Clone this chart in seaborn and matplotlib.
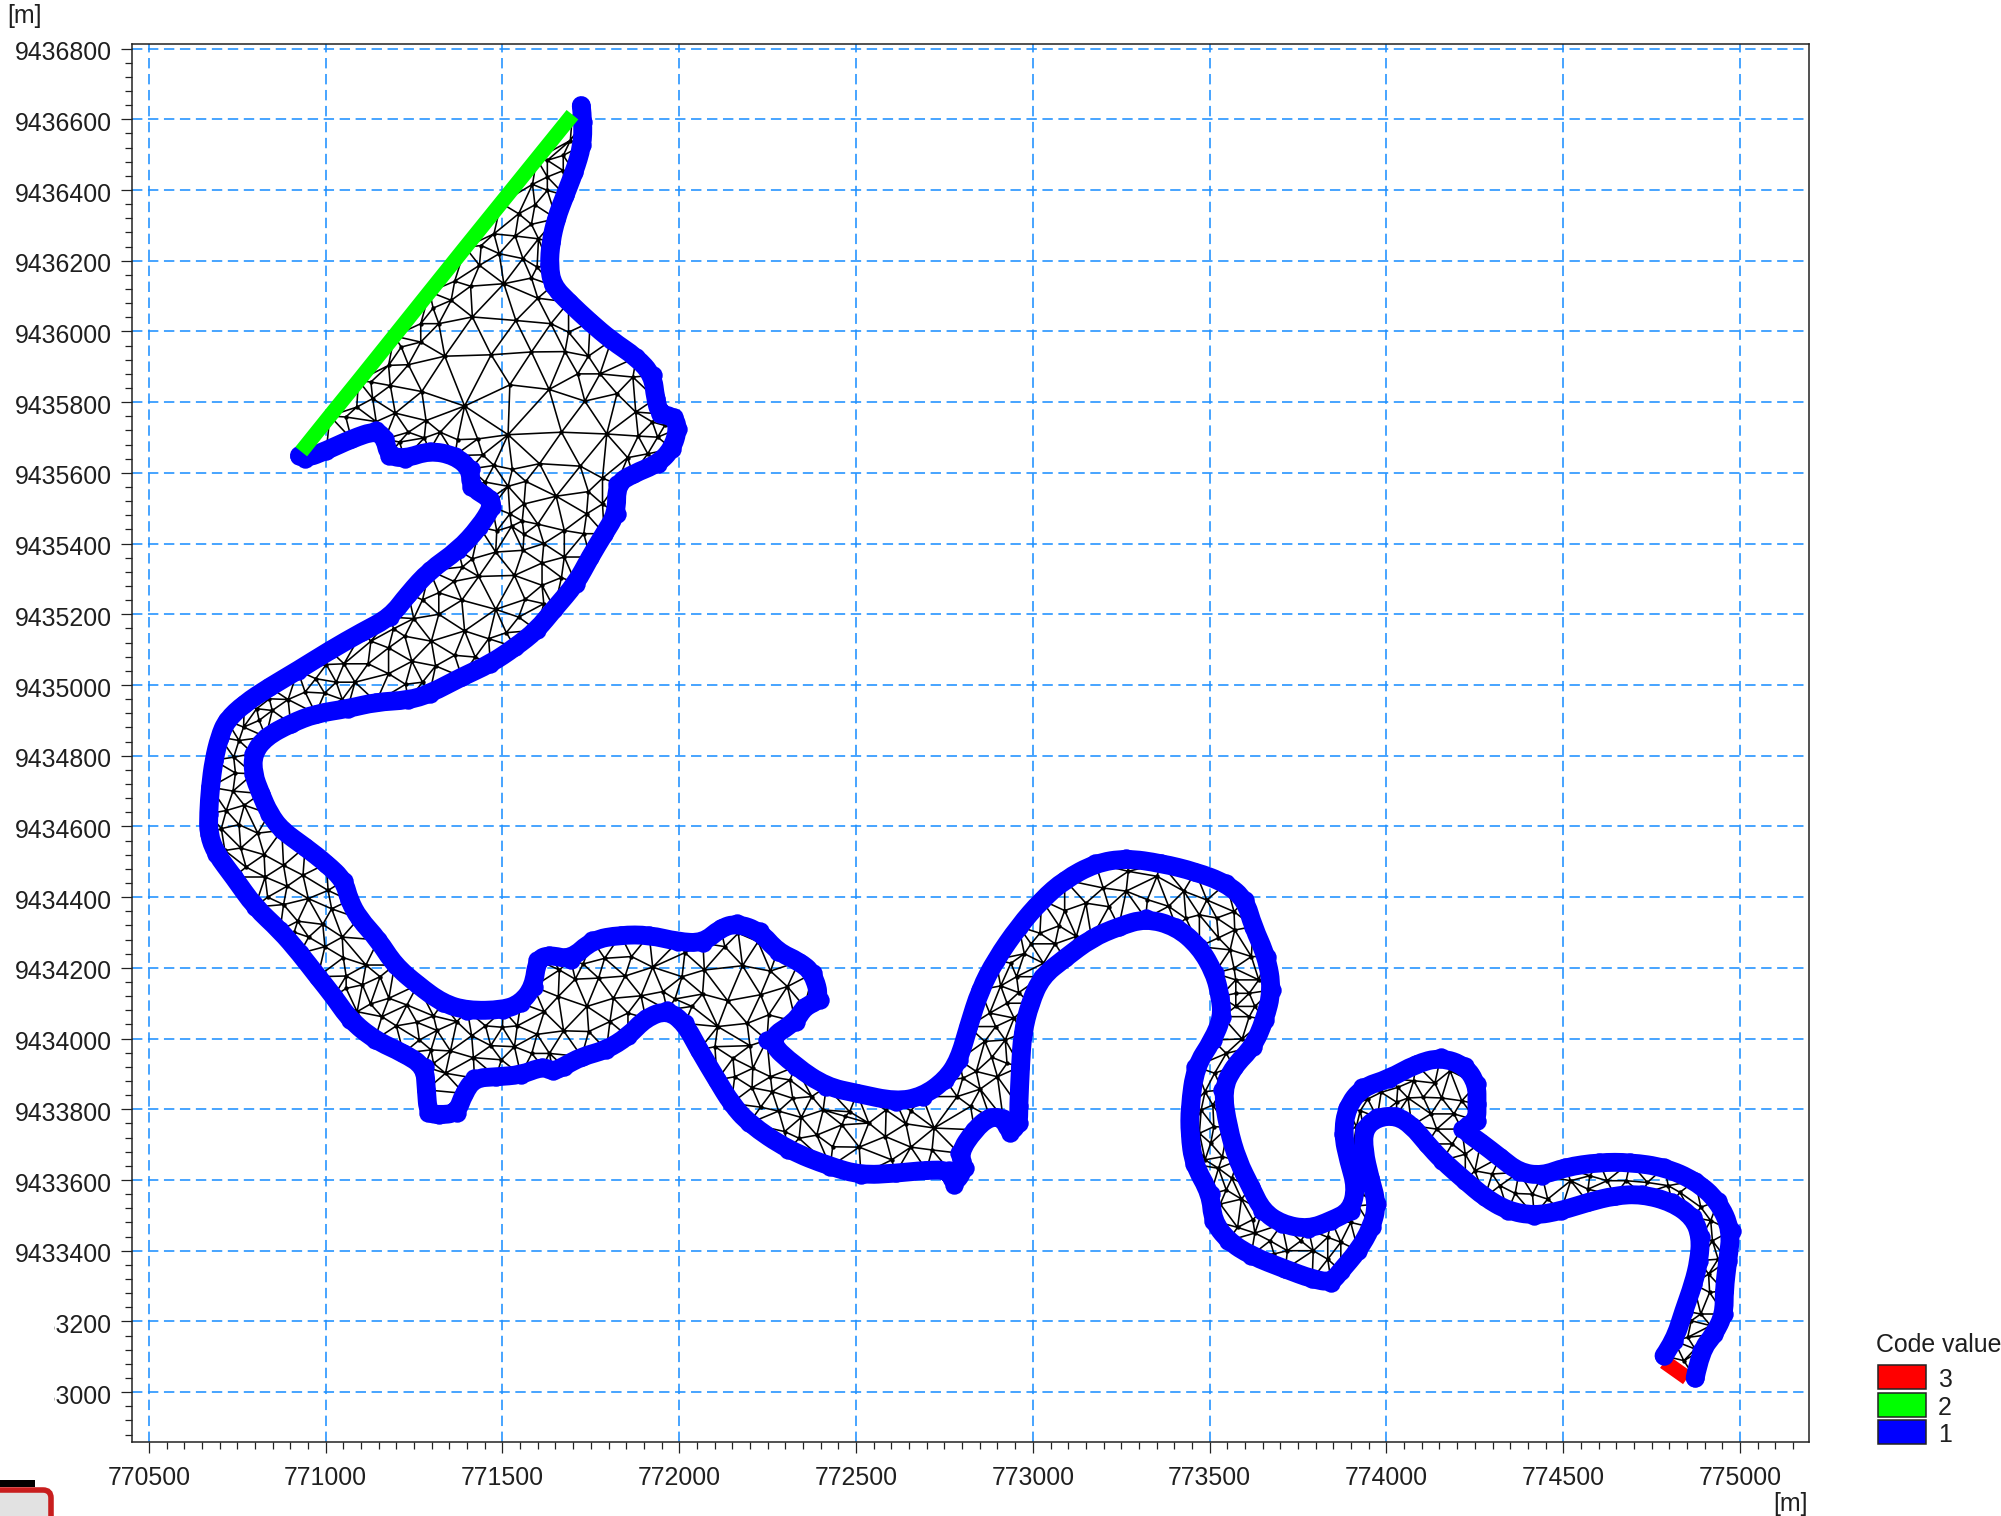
import numpy as np
import matplotlib
matplotlib.use("Agg")
import matplotlib.pyplot as plt
import matplotlib.tri as mtri
import matplotlib.transforms as mtrans
from matplotlib.patches import Rectangle, Polygon, FancyBboxPatch, PathPatch
from matplotlib.path import Path
from matplotlib.ticker import MultipleLocator
import seaborn as sns

# ---------- data: easting / northing in metres ----------
x_ticks = [770500, 771000, 771500, 772000, 772500, 773000, 773500, 774000, 774500, 775000]
y_ticks = [9436800, 9436600, 9436400, 9436200, 9436000, 9435800, 9435600, 9435400, 9435200, 9435000,
           9434800, 9434600, 9434400, 9434200, 9434000, 9433800, 9433600, 9433400, 9433200, 9433000]
legend_codes = ["3", "2", "1"]
legend_title = "Code value"
unit_label = "[m]"

bank_bay_east = [(771723,9436639),(771728,9436592),(771726,9436526),(771703,9436451),(771677,9436385),
    (771652,9436319),(771637,9436253),(771632,9436187),(771642,9436130),(771687,9436083),(771748,9436026),
    (771808,9435975),(771879,9435927),(771925,9435876),(771933,9435810),(771945,9435767),(771985,9435758),
    (771997,9435725),(771980,9435668),(771940,9435626),(771869,9435597),(771823,9435569),(771823,9435485)]
bank_neck_east = [(771788,9435428),(771748,9435362),(771708,9435287),(771647,9435216),(771597,9435155),
    (771536,9435107),(771466,9435060),(771385,9435023),(771294,9434975),(771234,9434957),(771143,9434952),
    (771062,9434933),(770972,9434919),(770901,9434891),(770831,9434853),(770795,9434806),(770795,9434749),
    (770816,9434693),(770841,9434636),(770876,9434589),(770942,9434542),(771002,9434495),(771052,9434447),
    (771067,9434391),(771094,9434340)]
bank_lobe_north = [(771149,9434279),(771195,9434208),(771260,9434152),(771331,9434100),(771401,9434079),
    (771502,9434081),(771552,9434100),(771588,9434147),(771598,9434223),(771633,9434237),(771693,9434223),
    (771754,9434279),(771834,9434293),(771915,9434293),(771996,9434274),(772067,9434270),(772117,9434312),
    (772162,9434326),(772228,9434303),(772278,9434246),(772339,9434218),(772379,9434185),(772399,9434109),
    (772354,9434090),(772329,9434048),(772248,9433996)]
bank_meander_outer = [(772329,9433921),(772416,9433864),(772503,9433845),(772612,9433822),(772688,9433836),
    (772753,9433883),(772791,9433940),(772818,9434034),(772851,9434138),(772895,9434223),(772960,9434317),
    (773025,9434392),(773090,9434449),(773177,9434496),(773264,9434510),(773362,9434496),(773460,9434472),
    (773547,9434439),(773601,9434392),(773623,9434317),(773661,9434232),(773677,9434138),(773656,9434053),
    (773623,9433977),(773568,9433921),(773536,9433855),(773552,9433749),(773579,9433655),(773617,9433579),
    (773649,9433513)]
bank_tail_east = [(773704,9433475),(773779,9433461),(773844,9433485),(773899,9433513),(773915,9433579),
    (773893,9433655),(773877,9433730),(773888,9433805),(773931,9433862),(774007,9433886),(774083,9433928),
    (774153,9433947),(774223,9433923),(774256,9433871),(774256,9433815),(774256,9433768),(774213,9433744),
    (774267,9433706),(774321,9433664),(774375,9433622),(774440,9433612),(774505,9433636),(774602,9433650),
    (774689,9433650),(774786,9433636),(774873,9433598),(774938,9433541),(774976,9433457),(774965,9433372),
    (774955,9433287),(774955,9433221),(774927,9433164),(774889,9433117),(774873,9433040)]
bank_tail_west = [(774785,9433103),(774814,9433145),(774841,9433230),(774868,9433306),(774884,9433372),
    (774889,9433438),(774868,9433494),(774808,9433537),(774722,9433560),(774646,9433556),(774570,9433537),
    (774494,9433513),(774418,9433499),(774343,9433513),(774278,9433551),(774223,9433598),(774158,9433655),
    (774115,9433702),(774072,9433754),(774028,9433782),(773974,9433777),(773936,9433744),(773936,9433683),
    (773953,9433607),(773974,9433532),(773958,9433466),(773920,9433400),(773871,9433343),(773844,9433310),
    (773790,9433320),(773714,9433348),(773617,9433386),(773552,9433428),(773509,9433485),(773503,9433560),
    (773455,9433645),(773444,9433730),(773444,9433805)]
bank_meander_inner = [(773460,9433921),(773509,9433996),(773536,9434062),(773530,9434119),(773514,9434185),
    (773471,9434260),(773405,9434317),(773319,9434340),(773243,9434317),(773166,9434284),(773090,9434227),
    (773025,9434175),(772992,9434100),(772971,9434015),(772965,9433921),(772960,9433808),(772960,9433761),
    (772936,9433732),(772916,9433775),(772878,9433779),(772835,9433742),(772791,9433676),(772808,9433633),
    (772777,9433586),(772764,9433628),(772699,9433628),(772612,9433619),(772514,9433614),(772427,9433638),
    (772308,9433685)]
bank_lobe_south = [(772197,9433760),(772147,9433817),(772107,9433883),(772056,9433968),(772016,9434043),
    (771966,9434081),(771905,9434058),(771855,9434006),(771794,9433968),(771724,9433949),(771673,9433921),
    (771643,9433907),(771613,9433921),(771552,9433897),(771482,9433892),(771421,9433888),(771391,9433845),
    (771371,9433789),(771321,9433784),(771290,9433789),(771285,9433855),(771280,9433921),(771220,9433959),
    (771139,9433996),(771069,9434053),(771023,9434119),(770978,9434175),(770927,9434241)]
bank_neck_west = [(770871,9434306),(770800,9434372),(770740,9434457),(770690,9434523),(770669,9434579),
    (770669,9434636),(770674,9434711),(770684,9434787),(770700,9434853),(770720,9434900),(770770,9434947),
    (770841,9434994),(770921,9435041),(771012,9435098),(771103,9435150),(771183,9435192),(771234,9435258),
    (771294,9435324),(771375,9435381),(771435,9435447),(771471,9435504)]
bank_bay_south = [(771466,9435527),(771410,9435560),(771410,9435611),(771365,9435649),(771294,9435663),
    (771224,9435640),(771178,9435649),(771168,9435696),(771143,9435720),(771073,9435696),(771002,9435663),
    (770942,9435640),(770926,9435649)]
open_boundary_green = [(770931,9435660),(771012,9435761),(771093,9435861),(771194,9435987),(771294,9436112),
    (771395,9436238),(771496,9436363),(771597,9436488),(771698,9436613)]
open_boundary_red = [(774851,9433040),(774786,9433086)]

nodes_bay = [(771692,9436540),(771672,9436498),(771627,9436484),(771672,9436455),(771627,9436437),
    (771585,9436416),(771627,9436399),(771592,9436358),(771546,9436333),(771582,9436303),(771536,9436270),
    (771476,9436276),(771602,9436262),(771491,9436220),(771440,9436243),(771558,9436206),(771435,9436187),
    (771598,9436182),(771582,9436151),(771504,9436135),(771410,9436128),(771365,9436142),(771600,9436094),
    (771355,9436088),(771304,9436066),(771415,9436041),(771320,9436022),(771538,9436031),(771637,9436022),
    (771269,9436022),(771687,9435998),(771269,9435970),(771214,9435956),(771337,9435930),(771468,9435934),
    (771582,9435942),(771677,9435943),(771743,9435930),(771234,9435906),(771178,9435904),(771776,9435880),
    (771713,9435880),(771869,9435871),(771183,9435847),(771128,9435857),(771521,9435849),(771632,9435836),
    (771272,9435830),(771824,9435824),(771133,9435810),(771733,9435803),(771088,9435786),(771393,9435789),
    (771197,9435769),(771877,9435772),(771057,9435758),(771284,9435748),(771143,9435745),(771234,9435715),
    (771924,9435744),(771959,9435734),(771516,9435708),(771667,9435715),(771795,9435710),(771884,9435704),
    (771939,9435701),(771279,9435699),(771373,9435694),(771430,9435696),(771324,9435715),(771209,9435687),
    (771854,9435643),(771911,9435654),(771444,9435651),(771720,9435619),(771605,9435626),(771476,9435621),
    (771528,9435610),(771783,9435585),(771652,9435534),(771566,9435576),(771516,9435562),(771451,9435574),
    (771561,9435512),(771743,9435547),(771783,9435512),(771738,9435484),(771521,9435484)]
nodes_neck = [(771556,9435464),(771600,9435455),(771526,9435449),(771484,9435436),(771675,9435437),
    (771561,9435426),(771730,9435428),(771617,9435400),(771481,9435376),(771558,9435381),(771675,9435362),
    (771415,9435357),(771612,9435345),(771387,9435334),(771433,9435307),(771534,9435310),(771667,9435304),
    (771363,9435293),(771612,9435282),(771320,9435261),(771274,9435241),(771385,9435240),(771564,9435242),
    (771481,9435214),(771617,9435230),(771320,9435200),(771249,9435188),(771546,9435192),(771224,9435138),
    (771192,9435159),(771393,9435153),(771511,9435148),(771128,9435124),(771299,9435124),(771461,9435131),
    (771178,9435105),(771365,9435084),(771423,9435079),(771244,9435067),(771052,9435060),(771120,9435060),
    (771311,9435054),(771002,9435058),(771178,9435032),(770972,9435018),(771030,9435008),(771083,9435008),
    (771226,9435002),(771274,9435008),(770942,9434980),(770997,9434977),(770894,9434959),(771047,9434959),
    (770841,9434961),(770849,9434928),(770805,9434933),(770812,9434900),(770768,9434881),(770755,9434843),
    (770740,9434796),(770745,9434751),(770738,9434700),(770770,9434660),(770719,9434645),(770755,9434605),
    (770808,9434581),(770705,9434594),(770760,9434539),(770826,9434520),(770881,9434490),(770715,9434532),
    (770936,9434462),(770829,9434457),(770775,9434485),(770891,9434431),(771007,9434419),(770836,9434400),
    (770951,9434396),(770881,9434379),(771017,9434367),(770921,9434332),(770992,9434323),(770911,9434301),
    (771047,9434287),(770952,9434287)]
nodes_lobe = [(770998,9434260),(771050,9434229),(771114,9434208),(771058,9434177),(771104,9434152),
    (771154,9434175),(771058,9434142),(771127,9434098),(771179,9434114),(771230,9434095),(771089,9434076),
    (771159,9434062),(771258,9434046),(771200,9434036),(771315,9434023),(771305,9434064),(771265,9433996),
    (771371,9434048),(771413,9434008),(771452,9434036),(771500,9434032),(771542,9434036),(771353,9433965),
    (771298,9433968),(771467,9433980),(771534,9433977),(771418,9433946),(771305,9433930),(771339,9433902),
    (771497,9433940),(771583,9433958),(771633,9433958),(771598,9434012),(771673,9434022),(771744,9434020),
    (771618,9434076),(771739,9434091),(771658,9434119),(771804,9434048),(771855,9434072),(771814,9434114),
    (771892,9434121),(771954,9434133),(771988,9434112),(772008,9434175),(771925,9434202),(771772,9434171),
    (771847,9434177),(771706,9434168),(771661,9434194),(771865,9434232),(771789,9434227),(771728,9434211),
    (772016,9434243),(772071,9434194),(772066,9434126),(772137,9434107),(772230,9434124),(772306,9434147),
    (772179,9434206),(772258,9434191),(772129,9434260),(772167,9434298),(772223,9434274),(772109,9434034),
    (772192,9434043),(772200,9433980),(772036,9434091),(772253,9434067),(772101,9433977),(772152,9433944),
    (772208,9433916),(772157,9433892),(772258,9433892),(772313,9433883),(772206,9433861),(772263,9433850),
    (772321,9433831),(772375,9433836),(772230,9433806),(772281,9433795),(772345,9433777),(772407,9433798),
    (772460,9433756),(772298,9433737),(772389,9433727),(772339,9433718),(772434,9433694),(772470,9433780)]
nodes_meander = [(772536,9433761),(772641,9433759),(772721,9433747),(772509,9433693),(772583,9433723),
    (772655,9433693),(772715,9433685),(772601,9433657),(772482,9433793),(772585,9433798),(772655,9433796),
    (772786,9433836),(772851,9433857),(772900,9433892),(772802,9433888),(772824,9433808),(772840,9433907),
    (772884,9433947),(772927,9433930),(772864,9433992),(772922,9433996),(772895,9434034),(772947,9434058),
    (772878,9434072),(772927,9434100),(772960,9434130),(772909,9434149),(772954,9434175),(772938,9434213),
    (772976,9434240),(773030,9434213),(772995,9434268),(773063,9434268),(773020,9434298),(773074,9434319),
    (773123,9434289),(773090,9434362),(773150,9434383),(773215,9434373),(773199,9434426),(773264,9434417),
    (773270,9434473),(773324,9434393),(773351,9434459),(773384,9434374),(773427,9434417),(773433,9434340),
    (773471,9434350),(773492,9434392),(773520,9434341),(773569,9434359),(773525,9434285),(773571,9434307),
    (773558,9434251),(773618,9434232),(773569,9434199),(773639,9434166),(773574,9434166),(773574,9434128),
    (773612,9434128),(773628,9434091),(773574,9434091),(773612,9434062),(773592,9433999),(773547,9433958),
    (773514,9433902),(773487,9433850),(773509,9433812),(773476,9433798),(773512,9433751),(773471,9433732),
    (773503,9433704),(773536,9433666),(773525,9433633),(773487,9433657),(773563,9433605),(773547,9433572)]
nodes_tail = [(773530,9433532),(773590,9433546),(773622,9433488),(773579,9433466),(773628,9433450),
    (773671,9433428),(773720,9433400),(773793,9433400),(773834,9433438),(773871,9433424),(773682,9433391),
    (773758,9433428),(773834,9433376),(773920,9433527),(773899,9433480),(773931,9433560),(773926,9433607),
    (773918,9433640),(773907,9433704),(773915,9433751),(773926,9433796),(773947,9433829),(773985,9433848),
    (774032,9433862),(774029,9433820),(774077,9433881),(774061,9433832),(774137,9433874),(774104,9433834),
    (774180,9433909),(774156,9433832),(774213,9433824),(774126,9433787),(774191,9433787),(774142,9433744),
    (774186,9433702),(774223,9433673),(774250,9433626),(774299,9433617),(774321,9433584),(774364,9433562),
    (774413,9433560),(774456,9433546),(774521,9433598),(774575,9433612),(774624,9433598),(774570,9433574),
    (774678,9433598),(774738,9433593),(774797,9433584),(774830,9433565),(774889,9433523),(774917,9433485),
    (774922,9433428),(774938,9433376),(774911,9433334),(774914,9433282),(774889,9433221),(774917,9433188),
    (774862,9433202),(774873,9433122),(774841,9433089),(774852,9433155)]

# ---------- derived ----------
blue_path = np.array(bank_bay_east + bank_neck_east + bank_lobe_north + bank_meander_outer + bank_tail_east)
blue_path2 = np.array(bank_tail_west + bank_meander_inner + bank_lobe_south + bank_neck_west + bank_bay_south)
green = np.array(open_boundary_green)
red = np.array(open_boundary_red)
outline = np.vstack([blue_path, blue_path2, green])
interior = np.array(nodes_bay + nodes_neck + nodes_lobe + nodes_meander + nodes_tail, dtype=float)
all_nodes = np.unique(np.vstack([outline, interior]).astype(float), axis=0)

def smooth_path(p):
    """Quadratic Bezier path with the read vertices as control points."""
    verts, codes = [tuple(p[0])], [Path.MOVETO]
    for i in range(1, len(p) - 1):
        end = (p[i] + p[i + 1]) / 2 if i < len(p) - 2 else p[i + 1]
        verts += [tuple(p[i]), tuple(end)]
        codes += [Path.CURVE3, Path.CURVE3]
    return Path(verts, codes)

# ---------- figure ----------
W, H = 2001, 1516
sns.set_theme(style="ticks", rc={"axes.grid": False})
plt.rcParams["font.family"] = ["Liberation Sans", "DejaVu Sans"]
TXT = "#1f1f1f"
FS = 17.9
fig = plt.figure(figsize=(W / 100, H / 100), dpi=100, facecolor="white")
L, R, T, B = 131.5, 1809, 44, 1442
ax = fig.add_axes([L / W, 1 - B / H, (R - L) / W, (B - T) / H])
ax.set_facecolor("white")

# mesh: triangulate nodes, keep triangles inside the outline
tri = mtri.Triangulation(all_nodes[:, 0], all_nodes[:, 1])
cent = all_nodes[tri.triangles].mean(axis=1)
tri.set_mask(~Path(outline).contains_points(cent))
clip = Polygon(outline, closed=True, facecolor="none", edgecolor="none")
ax.add_patch(clip)
for ln in ax.triplot(tri, color="black", lw=1.15, zorder=3):
    ln.set_clip_path(clip)
sns.scatterplot(x=interior[:, 0], y=interior[:, 1], s=10, color="black", linewidth=0, ax=ax, zorder=3, legend=False)

# boundaries
LW = 13.6
kw = dict(sort=False, estimator=None, ax=ax, legend=False)
sns.lineplot(x=red[:, 0], y=red[:, 1], color="#ff0000", lw=10.8, zorder=4, solid_capstyle="butt", **kw)
for p in (blue_path, blue_path2):
    ax.add_patch(PathPatch(smooth_path(p), facecolor="none", edgecolor="#0000ff", lw=LW, zorder=5,
                           capstyle="round", joinstyle="round"))
    sns.scatterplot(x=p[:, 0], y=p[:, 1], s=LW ** 2 * 0.95, color="#0000ff", linewidth=0, ax=ax,
                    zorder=5, legend=False)
sns.lineplot(x=green[:, 0], y=green[:, 1], color="#00ff00", lw=10.8, zorder=6, solid_capstyle="butt", **kw)

# axes
ax.set_xlim(770451, 775195)
ax.set_ylim(9432859, 9436813)
ax.set_xlabel("")
ax.set_ylabel("")
ax.set_xticks(x_ticks, [str(v) for v in x_ticks])
ax.set_yticks(y_ticks, [str(v) for v in y_ticks])
ax.xaxis.set_minor_locator(MultipleLocator(50))
ax.yaxis.set_minor_locator(MultipleLocator(40))
ax.tick_params(axis="both", which="major", length=8, width=0.9, color="#222222",
               labelsize=FS, labelcolor=TXT, pad=9, bottom=True, left=True)
ax.tick_params(axis="both", which="minor", length=5, width=0.9, color="#222222", bottom=True, left=True)
ax.tick_params(axis="y", which="major", pad=6)
ax.grid(True, which="major", color="#1e90ff", lw=1.15, ls=(0, (6.5, 3.5)), zorder=1)
ax.set_axisbelow(True)
for s in ax.spines.values():
    s.set_visible(True)
    s.set_color("#222222")
    s.set_linewidth(1.1)
shift = mtrans.ScaledTranslation(0, -2 / 100, fig.dpi_scale_trans)
for lab in ax.get_yticklabels():
    lab.set_transform(lab.get_transform() + shift)

def fx(px):
    return px / W
def fy(py):
    return 1 - py / H

fig.text(fx(7), fy(16), unit_label, fontsize=FS, color=TXT, va="center", ha="left")
fig.text(fx(1808), fy(1504), unit_label, fontsize=FS, color=TXT, va="center", ha="right")

# legend
fig.text(fx(1876), fy(1345), legend_title, fontsize=FS, color=TXT, va="center", ha="left")
swatches = ["#ff0000", "#00ff00", "#0000ff"]
for i, (c, lab) in enumerate(zip(swatches, legend_codes)):
    top = 1365 + i * 27.7
    fig.add_artist(Rectangle((fx(1877.5), fy(top + 24)), 48 / W, 24 / H, transform=fig.transFigure,
                             facecolor=c, edgecolor="#222222", lw=1.1))
    fig.text(fx(1938), fy(top + 15), lab, fontsize=FS, color=TXT, va="center", ha="left")

# screen artefacts of the reference: masked label stubs and a window corner
fig.add_artist(Rectangle((0, fy(1410)), 54 / W, 100 / H, transform=fig.transFigure,
                         facecolor="white", edgecolor="none", zorder=10))
fig.add_artist(Rectangle((0, fy(1487)), 35 / W, 7 / H, transform=fig.transFigure,
                         facecolor="black", edgecolor="none", zorder=11))
fig.add_artist(FancyBboxPatch((-12, H - 1560), 63, 70, boxstyle="round,pad=0,rounding_size=8",
                              transform=None, facecolor="#e2e2e2", edgecolor="#c81e1e", lw=4, zorder=11))

fig.savefig("out.png", dpi=100, facecolor="white")
